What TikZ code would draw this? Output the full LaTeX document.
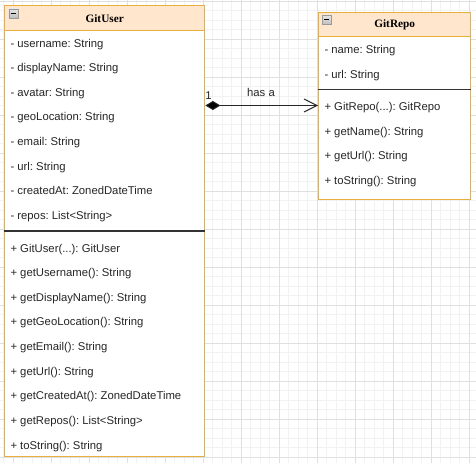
\documentclass[tikz,border=0pt]{standalone}
\usepackage{fontspec}
\setmainfont{Liberation Sans}
\newfontfamily\titlefont{Liberation Serif}
\usetikzlibrary{arrows.meta,calc}
\frenchspacing
\definecolor{hdrfill}{HTML}{FFE6CC}
\definecolor{boxline}{RGB}{232,175,60}
\definecolor{minorgrid}{HTML}{F2F2F2}
\definecolor{majorgrid}{HTML}{E0E0E0}
\definecolor{sepcol}{HTML}{333333}
\begin{document}
\begin{tikzpicture}[x=1pt,y=-1pt,
  minorline/.style={draw=minorgrid, line width=0.8pt},
  majorline/.style={draw=majorgrid, line width=0.9pt},
  classbox/.style={draw=boxline, fill=white, line width=1.4pt, inner sep=0pt, anchor=north west},
  classhead/.style={draw=boxline, fill=hdrfill, line width=1.4pt, inner sep=0pt, anchor=north west,
    font=\fontsize{11.3}{13}\selectfont\titlefont\bfseries},
  sepline/.style={draw=sepcol, line width=1.2pt},
  member/.style={anchor=base west, inner sep=0pt, font=\fontsize{11.3}{13}\selectfont\frenchspacing, text=black!85},
  lbl/.style={inner sep=0pt, font=\fontsize{11.3}{13}\selectfont, text=black!85},
  minusicon/.style={draw=gray!80, top color=gray!20, bottom color=gray!50, minimum size=9pt, inner sep=0pt,
    line width=0.6pt,
    path picture={\draw[black, line width=1.3pt] ([xshift=-2.7pt]path picture bounding box.center) -- ([xshift=2.7pt]path picture bounding box.center);}},
  assoc/.style={draw=black!85, line width=0.9pt, {Diamond[length=15pt,width=9pt,fill=black]}-{Straight Barb[length=13pt,width=13pt]}}
]
\useasboundingbox (0,0) rectangle (476,463);
\fill[white] (0,0) rectangle (476,463);
% grid
\foreach \k in {0,...,49} \draw[minorline] ({3.8+9.5*\k},0) -- ({3.8+9.5*\k},463);
\foreach \k in {0,...,48} \draw[minorline] (0,{1.3+9.5*\k}) -- (476,{1.3+9.5*\k});
\foreach \k in {0,...,12} \draw[majorline] ({13.3+38*\k},0) -- ({13.3+38*\k},463);
\foreach \k in {0,...,12} \draw[majorline] (0,{1.3+38*\k}) -- (476,{1.3+38*\k});

% GitUser class
\node[classbox, minimum width=200pt, minimum height=451pt] (user) at (4,5) {};
\node[classhead, minimum width=200pt, minimum height=25pt] (userhead) at (4,5) {GitUser};
\node[minusicon] (usericon) at (13.4,13.3) {};
\draw[sepline] ($(user.north west)+(0,226)$) -- ($(user.north east)+(0,226)$);
\foreach \t [count=\i from 0] in {- username: String, - displayName: String, - avatar: String, - geoLocation: String, - email: String, - url: String, - createdAt: ZonedDateTime, - repos: List<String>}
  \node[member] (ua\i) at (10.3,{47+24.65*\i}) {\t};
\foreach \t [count=\i from 0] in {+ GitUser(.{}.{}.): GitUser, + getUsername(): String, + getDisplayName(): String, + getGeoLocation(): String, + getEmail(): String, + getUrl(): String, + getCreatedAt(): ZonedDateTime, + getRepos(): List<String>, + toString(): String}
  \node[member] (um\i) at (10.3,{252+24.65*\i}) {\t};

% GitRepo class
\node[classbox, minimum width=152pt, minimum height=187pt] (repo) at (318,12) {};
\node[classhead, minimum width=152pt, minimum height=24pt] (repohead) at (318,12) {GitRepo};
\node[minusicon] (repoicon) at (326.5,19.8) {};
\draw[sepline] ($(repo.north west)+(0,77.3)$) -- ($(repo.north east)+(0,77.3)$);
\foreach \t [count=\i from 0] in {- name: String, - url: String}
  \node[member] (ra\i) at (324.3,{53.3+24.7*\i}) {\t};
\foreach \t [count=\i from 0] in {+ GitRepo(.{}.{}.): GitRepo, + getName(): String, + getUrl(): String, + toString(): String}
  \node[member] (rm\i) at (324.3,{110.3+24.7*\i}) {\t};

% association
\coordinate (src) at (204,105.5);
\draw[assoc] (user.east |- src) -- (repo.west |- src);
\node[lbl] (mult) at (208.5,96) {1};
\node[lbl] (hasa) at (261,92.5) {has a};
\end{tikzpicture}
\end{document}
